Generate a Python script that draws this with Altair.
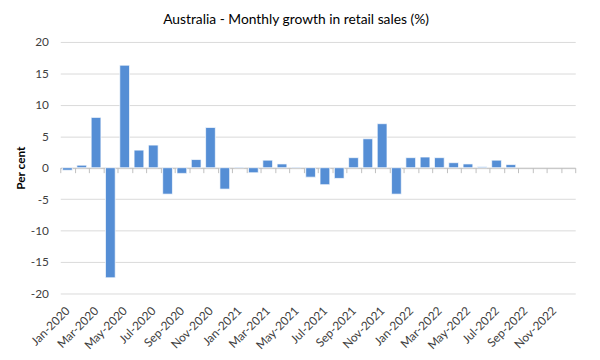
import altair as alt
import pandas as pd

months = [
    "Jan-2020", "Feb-2020", "Mar-2020", "Apr-2020", "May-2020", "Jun-2020",
    "Jul-2020", "Aug-2020", "Sep-2020", "Oct-2020", "Nov-2020", "Dec-2020",
    "Jan-2021", "Feb-2021", "Mar-2021", "Apr-2021", "May-2021", "Jun-2021",
    "Jul-2021", "Aug-2021", "Sep-2021", "Oct-2021", "Nov-2021", "Dec-2021",
    "Jan-2022", "Feb-2022", "Mar-2022", "Apr-2022", "May-2022", "Jun-2022",
    "Jul-2022", "Aug-2022", "Sep-2022", "Oct-2022", "Nov-2022", "Dec-2022",
]
growth = [
    -0.4, 0.4, 8.0, -17.5, 16.3, 2.8, 3.6, -4.2, -0.9, 1.3, 6.4, -3.4,
    0.1, -0.8, 1.2, 0.6, 0.1, -1.5, -2.7, -1.7, 1.6, 4.6, 7.0, -4.2,
    1.6, 1.7, 1.6, 0.8, 0.6, 0.15, 1.2, 0.5, None, None, None, None,
]
y_ticks = [-20, -15, -10, -5, 0, 5, 10, 15, 20]
shown_months = ["Jan", "Mar", "May", "Jul", "Sep", "Nov"]

df = pd.DataFrame({"month": months, "growth": growth})

label_expr = (
    "indexof(" + str(shown_months).replace('"', "'") +
    ", slice(datum.label, 0, 3)) >= 0 ? datum.label : ''"
)

W, H = 522, 255

bars = alt.Chart(df).mark_bar(
    color="#558ED5", stroke="#ffffff", strokeWidth=0.7,
    width=alt.RelativeBandSize(0.68),
).encode(
    x=alt.X(
        "month:N", sort=months,
        scale=alt.Scale(domain=months, paddingInner=0, paddingOuter=0),
        axis=alt.Axis(
            title=None, grid=False, offset=-H / 2, tickBand="extent",
            domainColor="#bfbfbf", tickColor="#bfbfbf", tickSize=5,
            labelAngle=-45, labelAlign="right", labelBaseline="middle",
            labelPadding=H / 2 + 10, labelOverlap=False, labelExpr=label_expr,
            labelFont="Lato", labelFontSize=12, labelColor="#404040",
        ),
    ),
    y=alt.Y(
        "growth:Q",
        scale=alt.Scale(domain=[-20, 20], nice=False, zero=True),
        axis=alt.Axis(
            values=y_ticks, title="Per cent", titleFont="Lato",
            titleFontSize=12, titleFontWeight="bold", titleColor="#000000",
            titlePadding=3, domain=False, ticks=False, labelPadding=12,
            labelExpr="toString(datum.value)", labelFont="Lato",
            labelFontSize=12, labelColor="#404040",
            gridColor="#d9d9d9", gridWidth=1,
        ),
    ),
)

chart = bars.properties(
    width=W, height=H,
    background="white",
    autosize=alt.AutoSizeParams(type="none"),
    padding={"left": 53, "top": 32, "right": 17, "bottom": 65},
    title=alt.TitleParams(
        "Australia - Monthly growth in retail sales (%)",
        font="Lato", fontSize=14, fontWeight="normal", color="#000000",
        anchor="middle", offset=9, dx=-22,
    ),
).configure_view(strokeWidth=0, stroke="transparent")

chart.save("out.html", embed_options={"renderer": "svg", "actions": False})
